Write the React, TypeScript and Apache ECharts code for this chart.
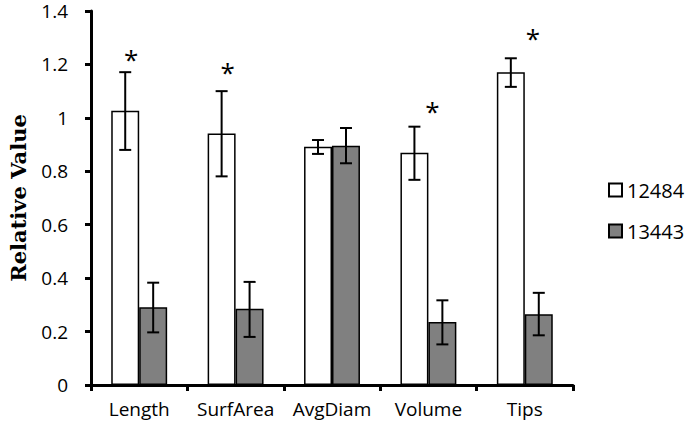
import React, { useEffect, useRef } from "react";
import * as echarts from "echarts";

const categories = ["Length", "SurfArea", "AvgDiam", "Volume", "Tips"];
const seriesNames = ["12484", "13443"];
const values12484 = [1.027, 0.941, 0.892, 0.869, 1.171];
const values13443 = [0.291, 0.285, 0.896, 0.236, 0.265];
const errLow12484 = [0.88, 0.781, 0.865, 0.768, 1.116];
const errHigh12484 = [1.171, 1.1, 0.917, 0.967, 1.223];
const errLow13443 = [0.197, 0.18, 0.83, 0.152, 0.186];
const errHigh13443 = [0.383, 0.386, 0.962, 0.317, 0.345];
// significance markers (category index, height in axis units)
const starCategories = [0, 1, 3, 4];
const starHeights = [1.229, 1.18, 1.033, 1.305];
const starOffsetsPx = [-8, -8, 4, 8];

const FONT = "'Open Sans', 'Noto Sans', sans-serif";
const BAR_FRAC = 0.29;

export default function App() {
  const ref = useRef<HTMLDivElement>(null);
  useEffect(() => {
    if (!ref.current) return;
    const chart = echarts.init(ref.current, undefined, { renderer: "svg" });

    const errData: any[] = [];
    categories.forEach((_, i) => {
      errData.push([i, errLow12484[i], errHigh12484[i], 0]);
      errData.push([i, errLow13443[i], errHigh13443[i], 1]);
    });
    const starData = starCategories.map((c, k) => [c, starHeights[k], k]);

    const option: any = {
      animation: false,
      backgroundColor: "#ffffff",
      grid: { left: 91, right: 112, top: 11, bottom: 45, outerBoundsMode: "none" },
      legend: {
        data: seriesNames,
        orient: "vertical",
        left: 603,
        top: 175,
        itemWidth: 13,
        itemHeight: 13,
        itemGap: 21,
        icon: "rect",
        textStyle: { fontFamily: FONT, fontSize: 20, color: "#000", lineHeight: 20 },
      },
      xAxis: {
        type: "category",
        data: categories,
        axisLine: { lineStyle: { color: "#000", width: 3 } },
        axisTick: { show: true, length: 6, lineStyle: { color: "#000", width: 3 } },
        axisLabel: { interval: 0, fontFamily: FONT, fontSize: 19, color: "#000", margin: 14 },
      },
      yAxis: {
        type: "value",
        min: 0,
        max: 1.4,
        interval: 0.2,
        name: "Relative Value",
        nameLocation: "middle",
        nameRotate: 90,
        nameGap: 62,
        nameTextStyle: {
          fontFamily: "DejaVu Serif",
          fontWeight: "bold",
          fontSize: 21,
          color: "#000",
        },
        splitLine: { show: false },
        axisLine: { show: true, lineStyle: { color: "#000", width: 3 } },
        axisTick: { show: true, length: 6, lineStyle: { color: "#000", width: 3 } },
        axisLabel: {
          fontFamily: FONT,
          fontSize: 19,
          lineHeight: 16,
          color: "#000",
          margin: 23,
          formatter: (v: number) => String(Math.round(v * 10) / 10),
        },
      },
      series: [
        {
          name: seriesNames[0],
          type: "bar",
          data: values12484,
          barWidth: BAR_FRAC * 100 + "%",
          barGap: "0%",
          itemStyle: { color: "#ffffff", borderColor: "#000", borderWidth: 1.5 },
        },
        {
          name: seriesNames[1],
          type: "bar",
          data: values13443,
          barWidth: BAR_FRAC * 100 + "%",
          barGap: "0%",
          itemStyle: { color: "#808080", borderColor: "#000", borderWidth: 1.5 },
        },
        {
          type: "custom",
          z: 10,
          data: errData,
          renderItem: (params: any, api: any) => {
            const ci = api.value(0);
            const s = api.value(3);
            const x = api.coord([ci, 0])[0];
            const band = api.size([1, 0])[0];
            const bw = band * BAR_FRAC;
            const cx = x + (s === 0 ? -bw / 2 : bw / 2);
            const yl = api.coord([ci, api.value(1)])[1];
            const yh = api.coord([ci, api.value(2)])[1];
            const cap = 6;
            const st = { stroke: "#000", lineWidth: 2 };
            return {
              type: "group",
              children: [
                { type: "line", shape: { x1: cx, y1: yl, x2: cx, y2: yh }, style: st },
                { type: "line", shape: { x1: cx - cap, y1: yl, x2: cx + cap, y2: yl }, style: st },
                { type: "line", shape: { x1: cx - cap, y1: yh, x2: cx + cap, y2: yh }, style: st },
              ],
            };
          },
        },
        {
          type: "custom",
          z: 11,
          data: starData,
          renderItem: (params: any, api: any) => {
            const ci = api.value(0);
            const k = api.value(2);
            const p = api.coord([ci, api.value(1)]);
            return {
              type: "text",
              x: p[0] + starOffsetsPx[k],
              y: p[1] + 2,
              style: {
                text: "*",
                fontFamily: FONT,
                fontSize: 26,
                fill: "#000",
                textAlign: "center",
                textVerticalAlign: "middle",
              },
            };
          },
        },
      ],
    };
    chart.setOption(option);
    return () => chart.dispose();
  }, []);
  return <div ref={ref} style={{ width: 685, height: 430, position: "absolute", left: 0, top: 0 }} />;
}
